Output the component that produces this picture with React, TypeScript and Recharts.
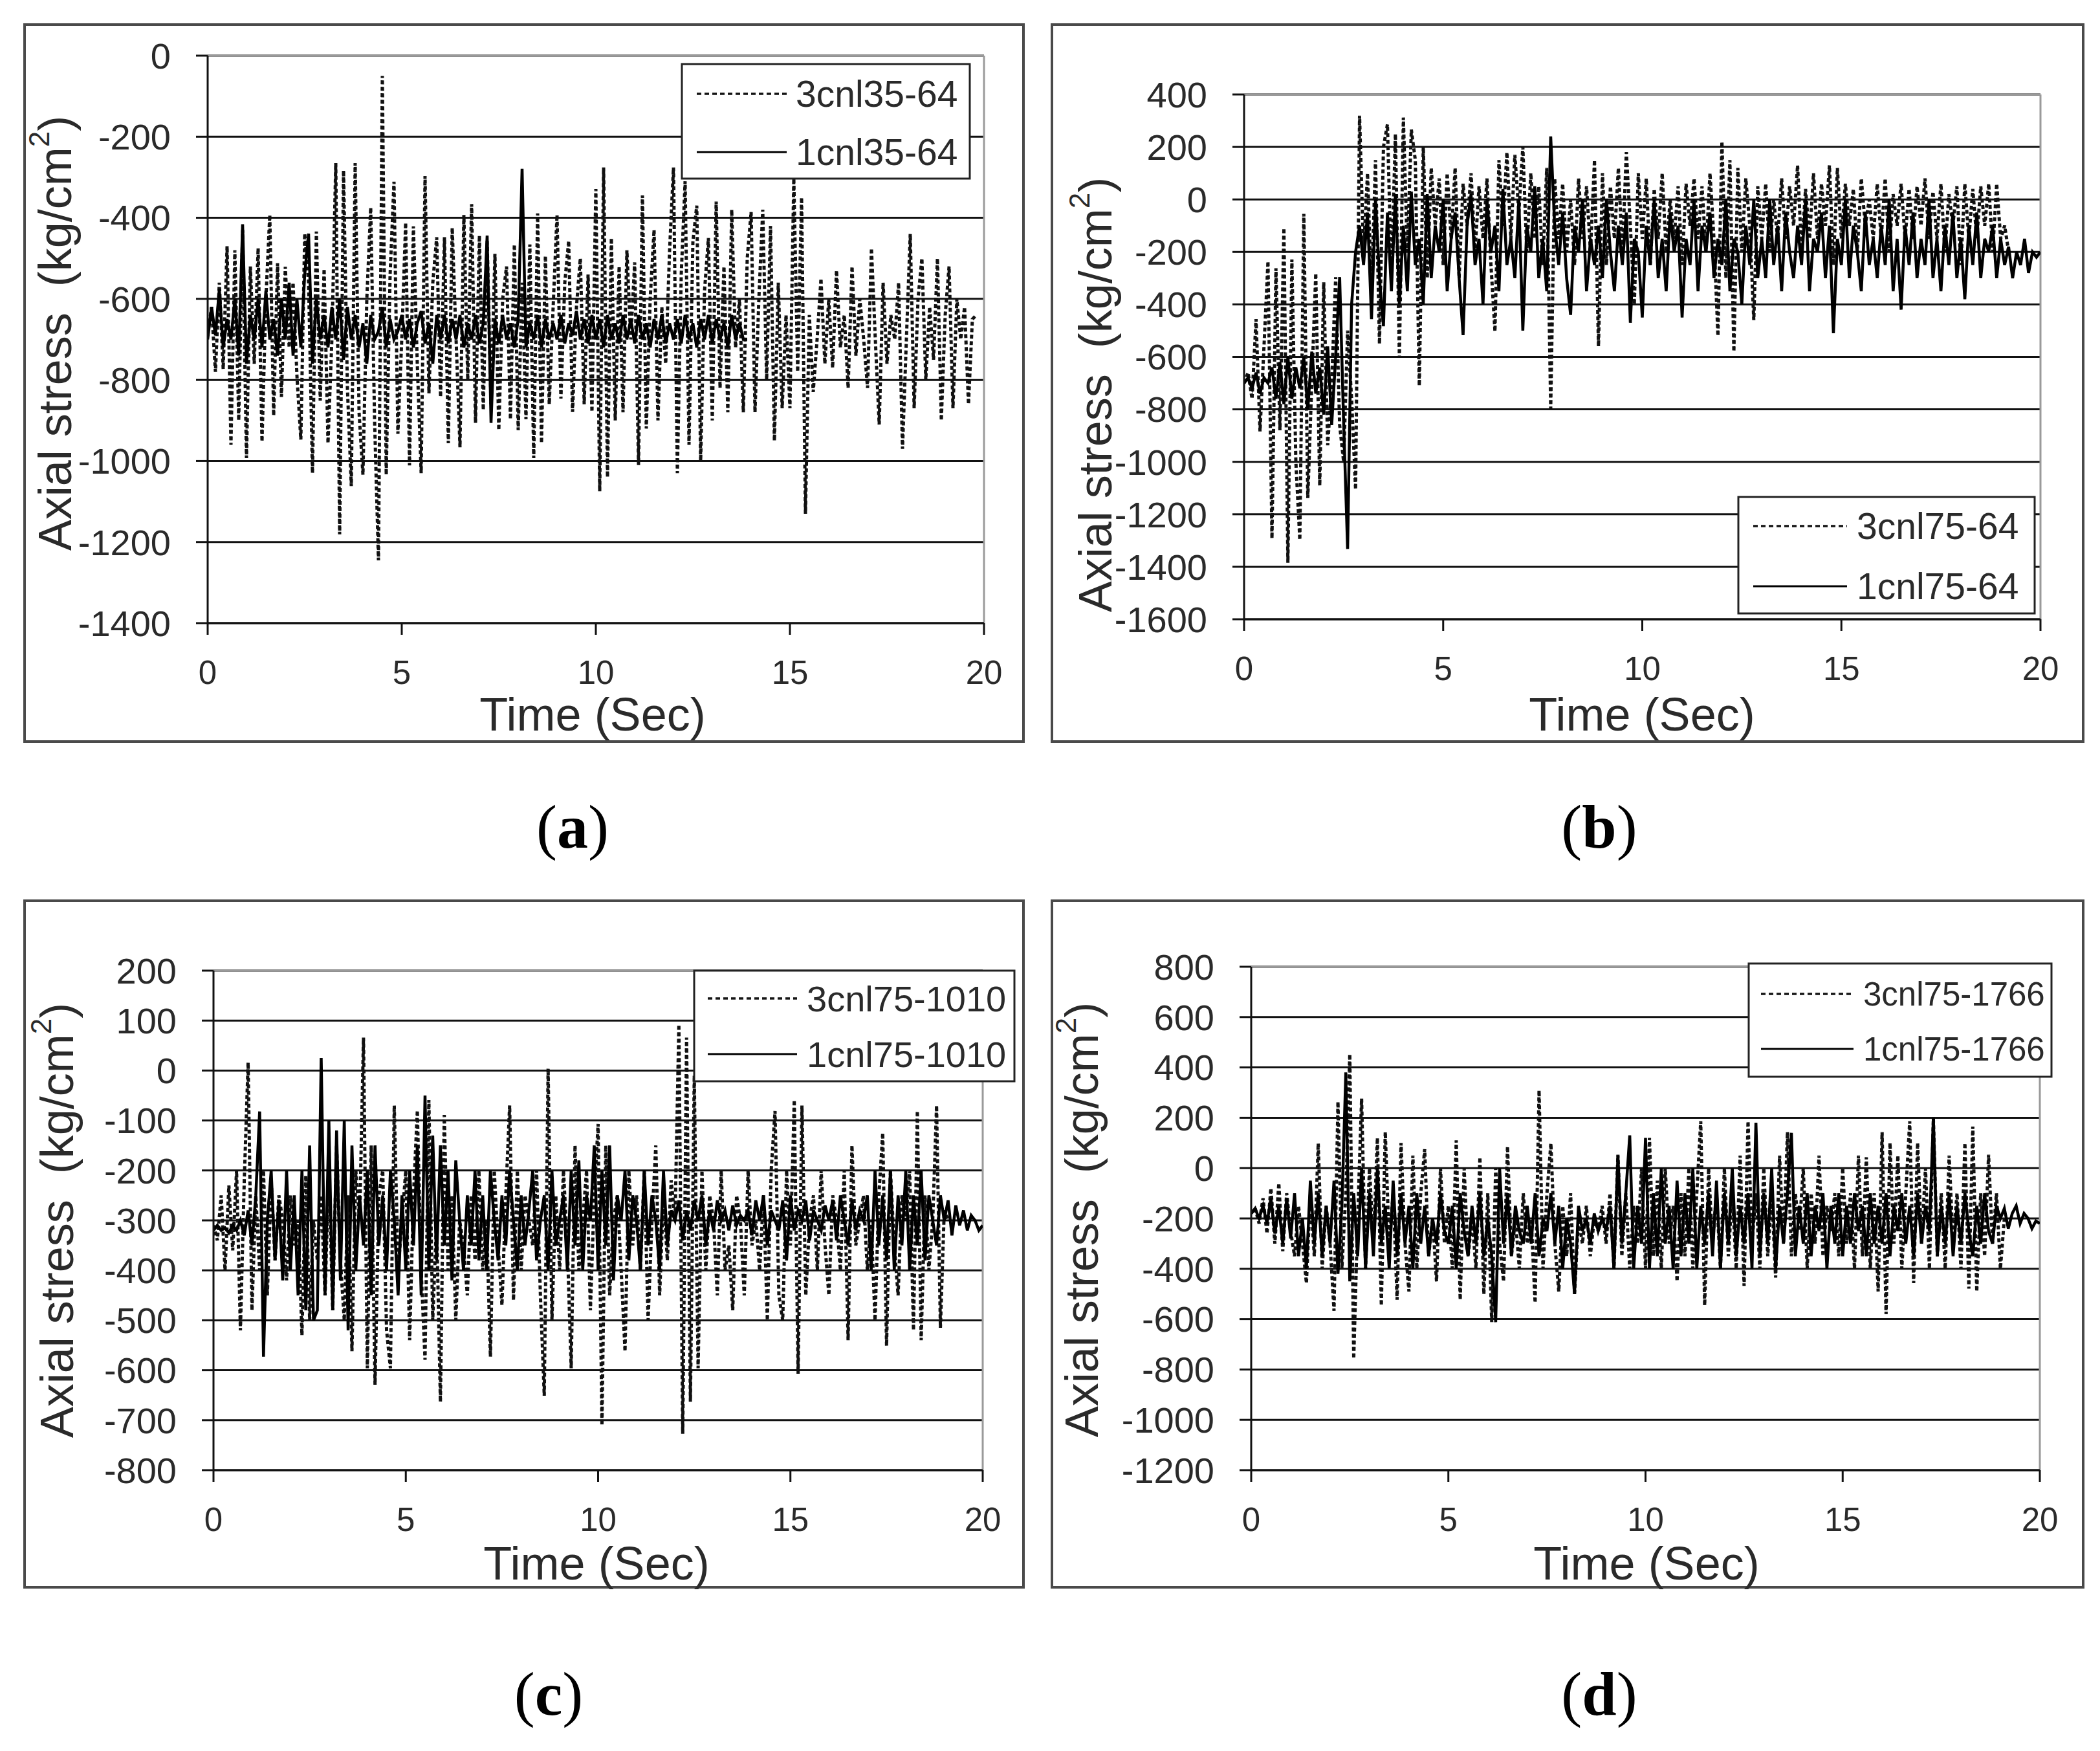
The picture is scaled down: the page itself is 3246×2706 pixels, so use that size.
import React from 'react';
import { LineChart, Line, XAxis, YAxis, CartesianGrid, ReferenceLine } from 'recharts';

const DT = 0.1;
const TIME_TICKS = [0, 5, 10, 15, 20];

const A_Y_TICKS = [-1400, -1200, -1000, -800, -600, -400, -200, 0];
const B_Y_TICKS = [-1600, -1400, -1200, -1000, -800, -600, -400, -200, 0, 200, 400];
const C_Y_TICKS = [-800, -700, -600, -500, -400, -300, -200, -100, 0, 100, 200];
const D_Y_TICKS = [-1200, -1000, -800, -600, -400, -200, 0, 200, 400, 600, 800];

const A_NAMES = ['3cnl35-64', '1cnl35-64'];
const B_NAMES = ['3cnl75-64', '1cnl75-64'];
const C_NAMES = ['3cnl75-1010', '1cnl75-1010'];
const D_NAMES = ['3cnl75-1766', '1cnl75-1766'];

// (a) 3cnl35-64, dashed, samples every 0.1 s
const A_DASHED = [
  -690, -620, -780, -560, -773, -470, -960, -480, -900, -430,
  -993, -520, -760, -475, -952, -600, -393, -888, -512, -842,
  -521, -720, -560, -790, -947, -439, -560, -1030, -434, -851,
  -526, -956, -700, -265, -1181, -283, -820, -1062, -265, -880,
  -1034, -600, -375, -900, -1245, -50, -1034, -540, -311, -933,
  -700, -412, -1011, -421, -760, -1030, -297, -833, -560, -448,
  -842, -448, -956, -425, -700, -966, -393, -800, -366, -906,
  -444, -874, -457, -860, -489, -924, -600, -520, -897, -466,
  -924, -560, -897, -466, -993, -389, -956, -494, -860, -620,
  -393, -846, -560, -457, -879, -620, -500, -860, -540, -879,
  -329, -1075, -276, -1040, -450, -900, -520, -880, -480, -700,
  -510, -1010, -345, -920, -600, -430, -900, -620, -760, -480,
  -276, -1030, -540, -310, -960, -460, -370, -1000, -580, -450,
  -900, -360, -820, -520, -880, -380, -720, -600, -880, -500,
  -386, -880, -600, -380, -800, -420, -950, -560, -870, -640,
  -870, -303, -780, -350, -1130, -640, -830, -700, -550, -760,
  -600, -770, -530, -720, -640, -820, -520, -740, -600, -700,
  -820, -475, -700, -910, -560, -760, -640, -700, -560, -970,
  -700, -440, -870, -600, -500, -800, -620, -750, -500, -900,
  -640, -520, -870, -600, -700, -620, -860, -650, -640,
];

// (a) 1cnl35-64, solid
const A_SOLID = [
  -700, -620, -690, -576, -720, -650, -700, -600, -740, -416,
  -760, -640, -700, -600, -720, -580, -700, -650, -740, -600,
  -700, -560, -740, -600, -720, -540, -439, -760, -600, -700,
  -640, -720, -620, -700, -600, -750, -620, -700, -640, -720,
  -660, -760, -640, -700, -680, -620, -720, -650, -700, -680,
  -640, -700, -650, -720, -660, -630, -710, -660, -760, -640,
  -700, -640, -710, -650, -700, -640, -720, -660, -700, -640,
  -710, -660, -444, -906, -650, -710, -640, -700, -660, -720,
  -650, -279, -720, -660, -700, -640, -720, -650, -700, -660,
  -700, -640, -710, -660, -690, -630, -700, -650, -710, -640,
  -700, -650, -720, -640, -700, -660, -710, -640, -700, -650,
  -710, -640, -700, -660, -720, -650, -700, -640, -710, -660,
  -700, -650, -710, -640, -700, -660, -720, -650, -700, -640,
  -710, -650, -700, -660, -720, -640, -700, -660, -700, -700,
];

// (b) 3cnl75-64, dashed
const B_DASHED = [
  -700, -660, -760, -456, -884, -560, -236, -1292, -262, -880,
  -109, -1385, -229, -1000, -1298, -55, -1138, -700, -282, -1091,
  -316, -937, -700, -296, -860, -1000, -500, -760, -1105, 319,
  -200, 100, -350, 150, -550, 200, 286, -300, 250, -603,
  312, -200, 266, 150, -710, 200, -300, 120, -100, 80,
  -250, 100, -150, 120, -300, 60, -100, 100, -200, 50,
  -150, 80, -250, -503, 150, -100, 180, -150, 170, -50,
  200, -200, 100, -150, 50, -250, 120, -797, 80, -150,
  60, -200, 0, -250, 80, -150, 50, -200, 150, -560,
  100, -250, 50, -150, 120, -200, 180, -100, -400, 100,
  -150, 80, -250, 40, -150, 100, -200, 0, -150, 50,
  -250, 60, -100, 80, -150, 50, -200, 100, -150, -520,
  220, -300, 150, -580, 120, -200, 80, -100, -460, 50,
  -150, 60, -200, 0, -150, 80, -150, 50, -100, 130,
  -200, 40, -150, 100, -150, 60, -100, 130, -250, 120,
  -150, 60, -100, 40, -200, 80, -100, 0, -150, 60,
  -150, 80, -200, 20, -100, 60, -150, 40, -150, 50,
  -100, 80, -150, 30, -150, 60, -200, 20, -100, 50,
  -250, 60, -150, 40, -150, 50, -100, 60, -200, 60,
  -150, -100, -200,
];

// (b) 1cnl75-64, solid
const B_SOLID = [
  -700, -680, -720, -660, -740, -680, -700, -640, -760, -620,
  -780, -600, -760, -640, -720, -600, -800, -580, -740, -640,
  -820, -560, -860, -600, -296, -850, -1332, -400, -200, -100,
  -250, -50, -456, 0, -300, -483, -50, -350, 20, -400,
  -100, -350, 30, -250, -150, -400, 20, -300, -100, -200,
  0, -350, -150, -50, -300, -517, -100, 20, -250, -150,
  -400, 0, -200, -100, -350, 40, -250, -150, -300, 0,
  -500, -100, -200, 50, -300, -150, -350, 240, -100, -250,
  -50, -300, -440, -100, -200, 0, -350, -150, -250, -100,
  -300, 0, -200, -350, -100, -250, -50, -470, -150, -200,
  -450, -100, -250, 0, -300, -150, -350, -50, -200, -100,
  -450, -150, -250, 0, -350, -100, -200, -50, -300, -150,
  -250, 0, -350, -150, -200, -400, -100, -250, 0, -300,
  -150, -300, 0, -250, -100, -350, -50, -200, -300, -100,
  -250, 0, -350, -150, -200, -50, -300, -100, -510, -150,
  -250, 0, -300, -100, -200, -350, -50, -250, -150, -300,
  -100, -250, 0, -350, -150, -420, -100, -250, -50, -300,
  -150, -250, 0, -300, -150, -350, -100, -250, -50, -300,
  -150, -380, -100, -250, -50, -300, -150, -200, -100, -300,
  -150, -250, -180, -300, -200, -250, -150, -280, -200, -220,
  -200,
];

// (c) 3cnl75-1010, dashed
const C_DASHED = [
  -310, -340, -250, -400, -230, -360, -200, -520, -220, 16,
  -480, -250, -400, -200, -450, -220, -380, -250, -300, -420,
  -250, -350, -300, -530, -210, -500, -300, -380, -250, -450,
  -200, -480, -150, -380, -500, -250, -562, -200, -300, 66,
  -596, -150, -629, -250, -200, -520, -596, -70, -400, -300,
  -200, -540, -250, -80, -400, -579, -59, -500, -300, -663,
  -89, -400, -250, -500, -300, -350, -450, -250, -380, -200,
  -400, -300, -573, -200, -350, -470, -250, -70, -460, -200,
  -400, -250, -300, -350, -200, -450, -651, 4, -500, -250,
  -400, -200, -350, -596, -150, -400, -300, -200, -480, -250,
  -107, -710, -150, -450, -300, -250, -400, -562, -200, -350,
  -250, -400, -200, -500, -300, -150, -450, -250, -380, -220,
  -300, 92, -727, 66, -663, -10, -596, -200, -400, -250,
  -300, -450, -200, -400, -350, -480, -250, -300, -450, -200,
  -350, -300, -400, -250, -500, -200, -81, -450, -500, -200,
  -350, -59, -607, -70, -450, -300, -250, -400, -200, -350,
  -450, -250, -300, -400, -200, -540, -150, -350, -300, -250,
  -400, -300, -500, -250, -125, -551, -200, -350, -450, -250,
  -300, -200, -520, -81, -540, -250, -400, -300, -70, -515,
  -280, -300,
];

// (c) 1cnl75-1010, solid
const C_SOLID = [
  -320, -310, -320, -315, -325, -310, -320, -300, -330, -280,
  -350, -250, -82, -573, -300, -200, -380, -260, -420, -200,
  -400, -250, -450, -200, -480, -150, -500, -480, 25, -450,
  -100, -480, -120, -420, -100, -520, -150, -400, -250, -350,
  -200, -450, -150, -350, -250, -400, -200, -300, -450, -250,
  -400, -200, -350, -150, -450, -50, -400, -130, -380, -150,
  -350, -200, -420, -180, -300, -400, -250, -350, -200, -380,
  -250, -400, -200, -300, -380, -250, -350, -200, -300, -400,
  -250, -350, -280, -200, -380, -300, -250, -400, -200, -350,
  -300, -250, -400, -200, -350, -180, -400, -250, -300, -150,
  -400, -200, -350, -150, -420, -250, -300, -200, -380, -250,
  -300, -400, -200, -350, -250, -300, -400, -200, -350, -280,
  -300, -260, -340, -280, -320, -260, -300, -250, -350, -280,
  -320, -260, -300, -280, -320, -270, -310, -290, -300, -280,
  -330, -260, -300, -250, -350, -280, -300, -320, -260, -380,
  -250, -320, -280, -300, -260, -340, -280, -300, -320, -270,
  -300, -260, -340, -250, -300, -350, -260, -320, -280, -300,
  -250, -400, -200, -350, -250, -380, -200, -400, -250, -350,
  -200, -400, -250, -350, -200, -380, -250, -300, -350, -250,
  -300, -260, -330, -270, -310, -280, -320, -290, -300, -320,
  -310,
];

// (d) 3cnl75-1766, dashed
const D_DASHED = [
  -180, -160, -220, -120, -260, -80, -300, -60, -330, -100,
  -250, -350, -150, -300, -457, -100, -350, 98, -400, -150,
  -300, -567, 264, -400, -100, 453, -757, -200, 276, -400,
  0, -300, 120, -546, 143, -300, -100, -523, 100, -300,
  -490, 50, -400, -100, 75, -350, -200, -450, 0, -300,
  -150, -400, 110, -523, 0, -350, -200, -400, 43, -501,
  -100, -612, 0, -300, -450, 86, -350, -200, -400, -100,
  -300, -200, -535, 309, -400, -100, 98, -300, -490, -150,
  -350, -100, -501, -200, -300, -150, -350, -200, -250, -150,
  -300, -100, -400, 53, -350, -100, -400, -150, -300, 0,
  -400, 120, -350, -50, -400, 0, -300, -150, -450, -100,
  -350, 0, -400, -100, 186, -546, 0, -300, -100, -400,
  0, -350, -100, -400, 50, -468, 186, -300, -100, -400,
  0, -350, -100, -435, 50, -300, 143, -350, -100, -250,
  0, -400, -100, -300, 50, -350, -150, -250, -100, -350,
  0, -300, -100, -400, 50, -350, 43, -400, -100, -490,
  143, -580, 100, -300, 50, -400, -100, 186, -457, 100,
  -300, 0, -400, 197, -350, -100, -400, 50, -300, -100,
  -400, 100, -479, 165, -490, -100, -350, 53, -300, -100,
  -400, -200,
];

// (d) 1cnl75-1766, solid
const D_SOLID = [
  -180, -160, -200, -150, -220, -120, -260, -150, -300, -120,
  -280, -100, -350, -200, -400, -50, -300, -100, -350, -150,
  -300, -50, -420, -150, 380, -450, -100, -350, 0, -400,
  -100, -350, 0, -300, -150, -400, -50, -350, -100, -300,
  -150, -400, -100, -300, -150, -350, -200, -300, -100, -250,
  -300, -150, -400, -100, -250, -350, -150, -300, -100, -350,
  -200, -350, -612, 0, -300, -100, -350, -150, -250, -300,
  -150, -300, -100, -350, -200, -250, -100, -300, -150, -400,
  -200, -300, -500, -150, -250, -200, -300, -180, -250, -200,
  -250, -150, -400, 50, -300, -100, 130, -400, -150, -300,
  120, -400, -100, -350, 0, -300, -150, -400, -50, -350,
  -100, -300, 0, -400, -150, -300, -100, -350, -50, -400,
  -100, -300, 0, -350, -150, -300, -100, -400, 180, -350,
  -100, -300, 0, -400, -150, -300, -100, 140, -350, -150,
  -300, -100, -350, -150, -250, -100, -400, -150, -300, -100,
  -350, -150, -300, -100, -250, -150, -350, -100, -300, -150,
  -300, -100, -350, -150, -250, -100, -300, -150, -350, -100,
  -300, -150, -250, 200, -350, -150, -300, -100, -350, -150,
  -300, -100, -250, -350, -150, -300, -100, -250, -300, -150,
  -200, -160, -240, -180, -150, -220, -180, -200, -240, -210,
  -220,
];

const toPts = (vals: number[]) => vals.map((v, i) => ({ t: Math.round(i * DT * 100) / 100, v }));

type Box = { l: number; t: number; r: number; b: number };

interface PanelCfg {
  box: Box;
  plot: Box;
  yTicks: number[];
  dashed: number[];
  solid: number[];
  names: string[];
  legend: { x: number; y: number; w: number; h: number; r1: number; r2: number; s1: number; s2: number; tx: number; fs: number };
  yTitle: { x: number; y: number };
  xTitle: { x: number; y: number };
}

const FONT = '"Liberation Sans", Arial, sans-serif';
const TEXT = '#2a2a2a';

const PANELS: PanelCfg[] = [
  {
    box: { l: 36, t: 36, r: 1584, b: 1148 },
    plot: { l: 321, t: 86, r: 1521, b: 963 },
    yTicks: A_Y_TICKS,
    dashed: A_DASHED,
    solid: A_SOLID,
    names: A_NAMES,
    legend: { x: 1018, y: 63, w: 445, h: 177, r1: 46, r2: 136, s1: 23, s2: 162, tx: 176, fs: 57 },
    yTitle: { x: 49, y: 479 },
    xTitle: { x: 880, y: 1068 },
  },
  {
    box: { l: 1624, t: 36, r: 3222, b: 1148 },
    plot: { l: 1923, t: 146, r: 3154, b: 957 },
    yTicks: B_Y_TICKS,
    dashed: B_DASHED,
    solid: B_SOLID,
    names: B_NAMES,
    legend: { x: 1063, y: 732, w: 458, h: 180, r1: 45, r2: 138, s1: 23, s2: 168, tx: 183, fs: 57 },
    yTitle: { x: 69, y: 574 },
    xTitle: { x: 914, y: 1068 },
  },
  {
    box: { l: 36, t: 1390, r: 1584, b: 2455 },
    plot: { l: 330, t: 1500, r: 1519, b: 2272 },
    yTicks: C_Y_TICKS,
    dashed: C_DASHED,
    solid: C_SOLID,
    names: C_NAMES,
    legend: { x: 1037, y: 110, w: 495, h: 171, r1: 43, r2: 129, s1: 21, s2: 159, tx: 174, fs: 56 },
    yTitle: { x: 52, y: 496 },
    xTitle: { x: 886, y: 1026 },
  },
  {
    box: { l: 1624, t: 1390, r: 3222, b: 2455 },
    plot: { l: 1934, t: 1494, r: 3153, b: 2272 },
    yTicks: D_Y_TICKS,
    dashed: D_DASHED,
    solid: D_SOLID,
    names: D_NAMES,
    legend: { x: 1079, y: 99, w: 468, h: 175, r1: 47, r2: 132, s1: 19, s2: 162, tx: 177, fs: 51 },
    yTitle: { x: 48, y: 495 },
    xTitle: { x: 921, y: 1026 },
  },
];

const LABELS = [
  { text: 'a', x: 885, y: 1277 },
  { text: 'b', x: 2472, y: 1277 },
  { text: 'c', x: 848, y: 2617 },
  { text: 'd', x: 2472, y: 2617 },
];

const Y_AXIS_W = 200;
const X_AXIS_H = 120;

function Panel({ cfg }: { cfg: PanelCfg }) {
  const { box, plot, yTicks, legend: lg } = cfg;
  const w = box.r - box.l;
  const h = box.b - box.t;
  const margin = {
    top: plot.t - box.t,
    right: box.r - plot.r,
    bottom: box.b - plot.b - X_AXIS_H,
    left: plot.l - box.l - Y_AXIS_W,
  };
  const yMin = yTicks[0];
  const yMax = yTicks[yTicks.length - 1];
  const dashedPts = toPts(cfg.dashed);
  const solidPts = toPts(cfg.solid);
  return (
    <div style={{ position: 'absolute', left: box.l, top: box.t, width: w, height: h }}>
      <div
        style={{
          position: 'absolute',
          left: 0,
          top: 0,
          width: w,
          height: h,
          boxSizing: 'border-box',
          border: '4px solid #4a4a4a',
          background: '#fff',
        }}
      />
      <div style={{ position: 'absolute', left: 0, top: 0 }}>
        <LineChart width={w} height={h} margin={margin}>
          <CartesianGrid vertical={false} stroke="#111" strokeWidth={3} />
          <XAxis
            dataKey="t"
            type="number"
            domain={[0, 20]}
            ticks={TIME_TICKS}
            interval={0}
            height={X_AXIS_H}
            axisLine={{ stroke: '#111', strokeWidth: 3 }}
            tickLine={{ stroke: '#111', strokeWidth: 3 }}
            tickSize={18}
            tickMargin={40}
            tick={{ fontSize: 51, fill: TEXT, fontFamily: FONT }}
            allowDataOverflow
          />
          <YAxis
            dataKey="v"
            type="number"
            domain={[yMin, yMax]}
            ticks={yTicks}
            interval={0}
            width={Y_AXIS_W}
            axisLine={{ stroke: '#111', strokeWidth: 3 }}
            tickLine={{ stroke: '#111', strokeWidth: 3 }}
            tickSize={18}
            tickMargin={39}
            tick={{ fontSize: 56, fill: TEXT, fontFamily: FONT }}
            allowDataOverflow
          />
          <ReferenceLine y={yMax} stroke="#9a9a9a" strokeWidth={3} />
          <ReferenceLine x={20} stroke="#9a9a9a" strokeWidth={3} />
          <Line
            data={dashedPts}
            dataKey="v"
            name={cfg.names[0]}
            type="linear"
            stroke="#111"
            strokeWidth={5}
            strokeDasharray="6 4"
            dot={false}
            activeDot={false}
            isAnimationActive={false}
          />
          <Line
            data={solidPts}
            dataKey="v"
            name={cfg.names[1]}
            type="linear"
            stroke="#000"
            strokeWidth={4.5}
            dot={false}
            activeDot={false}
            isAnimationActive={false}
          />
        </LineChart>
      </div>
      <svg
        width={w}
        height={h}
        style={{ position: 'absolute', left: 0, top: 0, pointerEvents: 'none', overflow: 'visible' }}
      >
        <text
          transform={`translate(${cfg.yTitle.x},${cfg.yTitle.y}) rotate(-90)`}
          textAnchor="middle"
          dominantBaseline="central"
          fontSize={72}
          fill={TEXT}
          fontFamily={FONT}
          style={{ whiteSpace: 'pre' }}
        >
          {'Axial stress  (kg/cm'}
          <tspan baselineShift="super" fontSize={44}>2</tspan>
          <tspan>)</tspan>
        </text>
        <text
          x={cfg.xTitle.x}
          y={cfg.xTitle.y}
          textAnchor="middle"
          dominantBaseline="central"
          fontSize={72}
          fill={TEXT}
          fontFamily={FONT}
        >
          Time (Sec)
        </text>
        <g transform={`translate(${lg.x},${lg.y})`}>
          <rect x={0} y={0} width={lg.w} height={lg.h} fill="#fff" stroke="#222" strokeWidth={3} />
          <line x1={lg.s1} x2={lg.s2} y1={lg.r1} y2={lg.r1} stroke="#151515" strokeWidth={3.5} strokeDasharray="7 5" />
          <line x1={lg.s1} x2={lg.s2} y1={lg.r2} y2={lg.r2} stroke="#000" strokeWidth={3} />
          <text x={lg.tx} y={lg.r1} dominantBaseline="central" fontSize={lg.fs} fill={TEXT} fontFamily={FONT}>
            {cfg.names[0]}
          </text>
          <text x={lg.tx} y={lg.r2} dominantBaseline="central" fontSize={lg.fs} fill={TEXT} fontFamily={FONT}>
            {cfg.names[1]}
          </text>
        </g>
      </svg>
    </div>
  );
}

export default function App() {
  return (
    <div
      style={{
        position: 'absolute',
        left: 0,
        top: 0,
        width: 3246,
        height: 2706,
        background: '#fff',
        overflow: 'hidden',
      }}
    >
      {PANELS.map((p, i) => (
        <Panel key={i} cfg={p} />
      ))}
      <svg width={3246} height={2706} style={{ position: 'absolute', left: 0, top: 0, pointerEvents: 'none' }}>
        {LABELS.map((lb) => (
          <text
            key={lb.text}
            x={lb.x}
            y={lb.y}
            textAnchor="middle"
            dominantBaseline="central"
            fontSize={96}
            fontFamily={'"Liberation Serif", "Times New Roman", serif'}
            fill="#000"
          >
            (<tspan fontWeight="bold">{lb.text}</tspan>)
          </text>
        ))}
      </svg>
    </div>
  );
}
